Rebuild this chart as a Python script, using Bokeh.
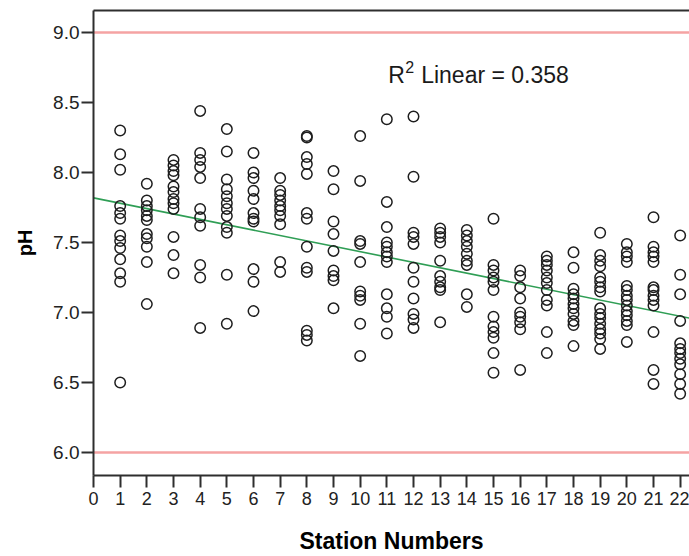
import numpy as np
from bokeh.plotting import figure
from bokeh.models import (Range1d, FixedTicker, LinearAxis, Span, Label,
                          ColumnDataSource, PrintfTickFormatter)
from bokeh.embed import file_html
from bokeh.resources import INLINE

# pH readings per sampling station
ph_station_1 = [8.30, 8.13, 8.02, 7.76, 7.71, 7.67, 7.55, 7.51, 7.46, 7.38, 7.28, 7.22, 6.50]
ph_station_2 = [7.92, 7.80, 7.76, 7.73, 7.69, 7.66, 7.56, 7.53, 7.47, 7.36, 7.06]
ph_station_3 = [8.09, 8.05, 8.01, 7.98, 7.90, 7.86, 7.81, 7.78, 7.74, 7.54, 7.41, 7.28]
ph_station_4 = [8.44, 8.14, 8.09, 8.04, 7.96, 7.74, 7.68, 7.62, 7.34, 7.25, 6.89]
ph_station_5 = [8.31, 8.15, 7.95, 7.88, 7.83, 7.78, 7.74, 7.69, 7.61, 7.57, 7.27, 6.92]
ph_station_6 = [8.14, 8.00, 7.96, 7.87, 7.81, 7.71, 7.67, 7.65, 7.31, 7.22, 7.01]
ph_station_7 = [7.96, 7.87, 7.84, 7.80, 7.76, 7.73, 7.69, 7.63, 7.36, 7.29]
ph_station_8 = [8.26, 8.25, 8.11, 8.06, 7.99, 7.71, 7.67, 7.47, 7.32, 7.29, 6.87, 6.84, 6.80]
ph_station_9 = [8.01, 7.88, 7.65, 7.56, 7.44, 7.30, 7.26, 7.23, 7.03]
ph_station_10 = [8.26, 7.94, 7.51, 7.49, 7.36, 7.15, 7.12, 7.09, 6.92, 6.69]
ph_station_11 = [8.38, 7.79, 7.61, 7.50, 7.47, 7.43, 7.40, 7.36, 7.13, 7.03, 6.97, 6.85]
ph_station_12 = [8.40, 7.97, 7.57, 7.54, 7.49, 7.32, 7.22, 7.10, 6.99, 6.95, 6.89]
ph_station_13 = [7.60, 7.57, 7.54, 7.50, 7.37, 7.26, 7.22, 7.18, 7.16, 6.93]
ph_station_14 = [7.59, 7.55, 7.51, 7.47, 7.42, 7.37, 7.34, 7.13, 7.04]
ph_station_15 = [7.67, 7.34, 7.30, 7.25, 7.22, 7.16, 6.97, 6.90, 6.86, 6.82, 6.71, 6.57]
ph_station_16 = [7.30, 7.26, 7.18, 7.10, 7.00, 6.97, 6.93, 6.88, 6.59]
ph_station_17 = [7.40, 7.37, 7.34, 7.30, 7.25, 7.21, 7.16, 7.09, 7.05, 6.86, 6.71]
ph_station_18 = [7.43, 7.32, 7.17, 7.13, 7.10, 7.06, 7.03, 6.99, 6.94, 6.91, 6.76]
ph_station_19 = [7.57, 7.41, 7.37, 7.33, 7.25, 7.22, 7.18, 7.15, 7.03, 6.99, 6.96, 6.92,
                 6.88, 6.85, 6.81, 6.74]
ph_station_20 = [7.49, 7.43, 7.40, 7.36, 7.19, 7.16, 7.12, 7.09, 7.05, 7.01, 6.98, 6.94,
                 6.91, 6.79]
ph_station_21 = [7.68, 7.47, 7.43, 7.40, 7.36, 7.18, 7.16, 7.12, 7.09, 7.05, 6.86, 6.59, 6.49]
ph_station_22 = [7.55, 7.27, 7.13, 6.94, 6.78, 6.74, 6.71, 6.67, 6.63, 6.56, 6.49, 6.42]

stations = list(range(1, 23))
ph_by_station = [ph_station_1, ph_station_2, ph_station_3, ph_station_4, ph_station_5,
                 ph_station_6, ph_station_7, ph_station_8, ph_station_9, ph_station_10,
                 ph_station_11, ph_station_12, ph_station_13, ph_station_14, ph_station_15,
                 ph_station_16, ph_station_17, ph_station_18, ph_station_19, ph_station_20,
                 ph_station_21, ph_station_22]

# acceptable pH band limits
ph_limits = [6.0, 9.0]
r2_linear = 0.358

x_ticks = list(range(0, 23))
y_ticks = [6.0, 6.5, 7.0, 7.5, 8.0, 8.5, 9.0]

xs = [s for s, vals in zip(stations, ph_by_station) for _ in vals]
ys = [v for vals in ph_by_station for v in vals]
src = ColumnDataSource(data=dict(station=xs, ph=ys))

X_END = 22.35
p = figure(width=689, height=556, output_backend="svg", toolbar_location=None,
           x_range=Range1d(0, X_END), y_range=Range1d(5.836, 9.157),
           min_border_left=93, min_border_right=0, min_border_top=10,
           min_border_bottom=81,
           x_axis_label="Station Numbers", y_axis_label="pH")
p.outline_line_color = None
p.background_fill_color = "white"
p.border_fill_color = "white"
p.xgrid.visible = False
p.ygrid.visible = False

AXIS_COLOR = "#2e2e2e"
for ax in (p.xaxis[0], p.yaxis[0]):
    ax.axis_line_width = 2
    ax.axis_line_color = AXIS_COLOR
    ax.major_tick_line_width = 2
    ax.major_tick_line_color = AXIS_COLOR
    ax.major_tick_out = 12
    ax.major_tick_in = 0
    ax.minor_tick_out = 0
    ax.minor_tick_in = 0
    ax.minor_tick_line_color = None
    ax.major_label_text_color = "#222222"
    ax.major_label_text_font = "Liberation Sans"
    ax.axis_label_text_font = "Liberation Sans"
    ax.axis_label_text_font_style = "bold"
    ax.axis_label_text_color = "black"

p.xaxis.ticker = FixedTicker(ticks=x_ticks)
p.xaxis.major_label_text_font_size = "18px"
p.xaxis.major_label_standoff = 4
p.xaxis.axis_label_text_font_size = "23px"
p.xaxis.axis_label_standoff = 20

p.yaxis.ticker = FixedTicker(ticks=y_ticks)
p.yaxis.formatter = PrintfTickFormatter(format="%.1f")
p.yaxis.major_label_text_font_size = "19px"
p.yaxis.major_label_standoff = 2
p.yaxis.axis_label_text_font_size = "20px"
p.yaxis.axis_label_standoff = 14

# plain frame line along the top edge
top_axis = LinearAxis(ticker=FixedTicker(ticks=[]), major_label_text_font_size="0px",
                      axis_line_color=AXIS_COLOR, axis_line_width=2,
                      major_tick_out=0, major_tick_in=0, minor_tick_out=0,
                      minor_tick_in=0, major_label_standoff=0,
                      major_tick_line_color=None, minor_tick_line_color=None)
p.add_layout(top_axis, "above")

# reference limits
for lim in ph_limits:
    p.add_layout(Span(location=lim, dimension="width", line_color="#f5a3a3",
                      line_width=2.5, level="underlay"))

# linear fit across all stations
slope, intercept = np.polyfit(np.array(xs, dtype=float), np.array(ys), 1)
fit_x = np.array([0.0, X_END])
p.line(fit_x, intercept + slope * fit_x, line_color="#2f9e55", line_width=1.6)

p.scatter(x="station", y="ph", source=src, marker="circle", size=10.5,
          fill_color=None, line_color="#1e1e1e", line_width=1.5)

# fit annotation: R, superscript 2, remainder
TXT_X, TXT_Y = 11.05, 8.693
txt_style = dict(text_font="Liberation Sans", text_color="#1a1a1a",
                 text_baseline="alphabetic")
p.add_layout(Label(x=TXT_X, y=TXT_Y, text="R", text_font_size="23px", **txt_style))
p.add_layout(Label(x=TXT_X, y=TXT_Y, x_offset=17, y_offset=8, text="2",
                   text_font_size="16px", **txt_style))
p.add_layout(Label(x=TXT_X, y=TXT_Y, x_offset=33,
                   text=f"Linear = {r2_linear:.3f}", text_font_size="23px", **txt_style))

open("out.html", "w").write(file_html(p, INLINE))
